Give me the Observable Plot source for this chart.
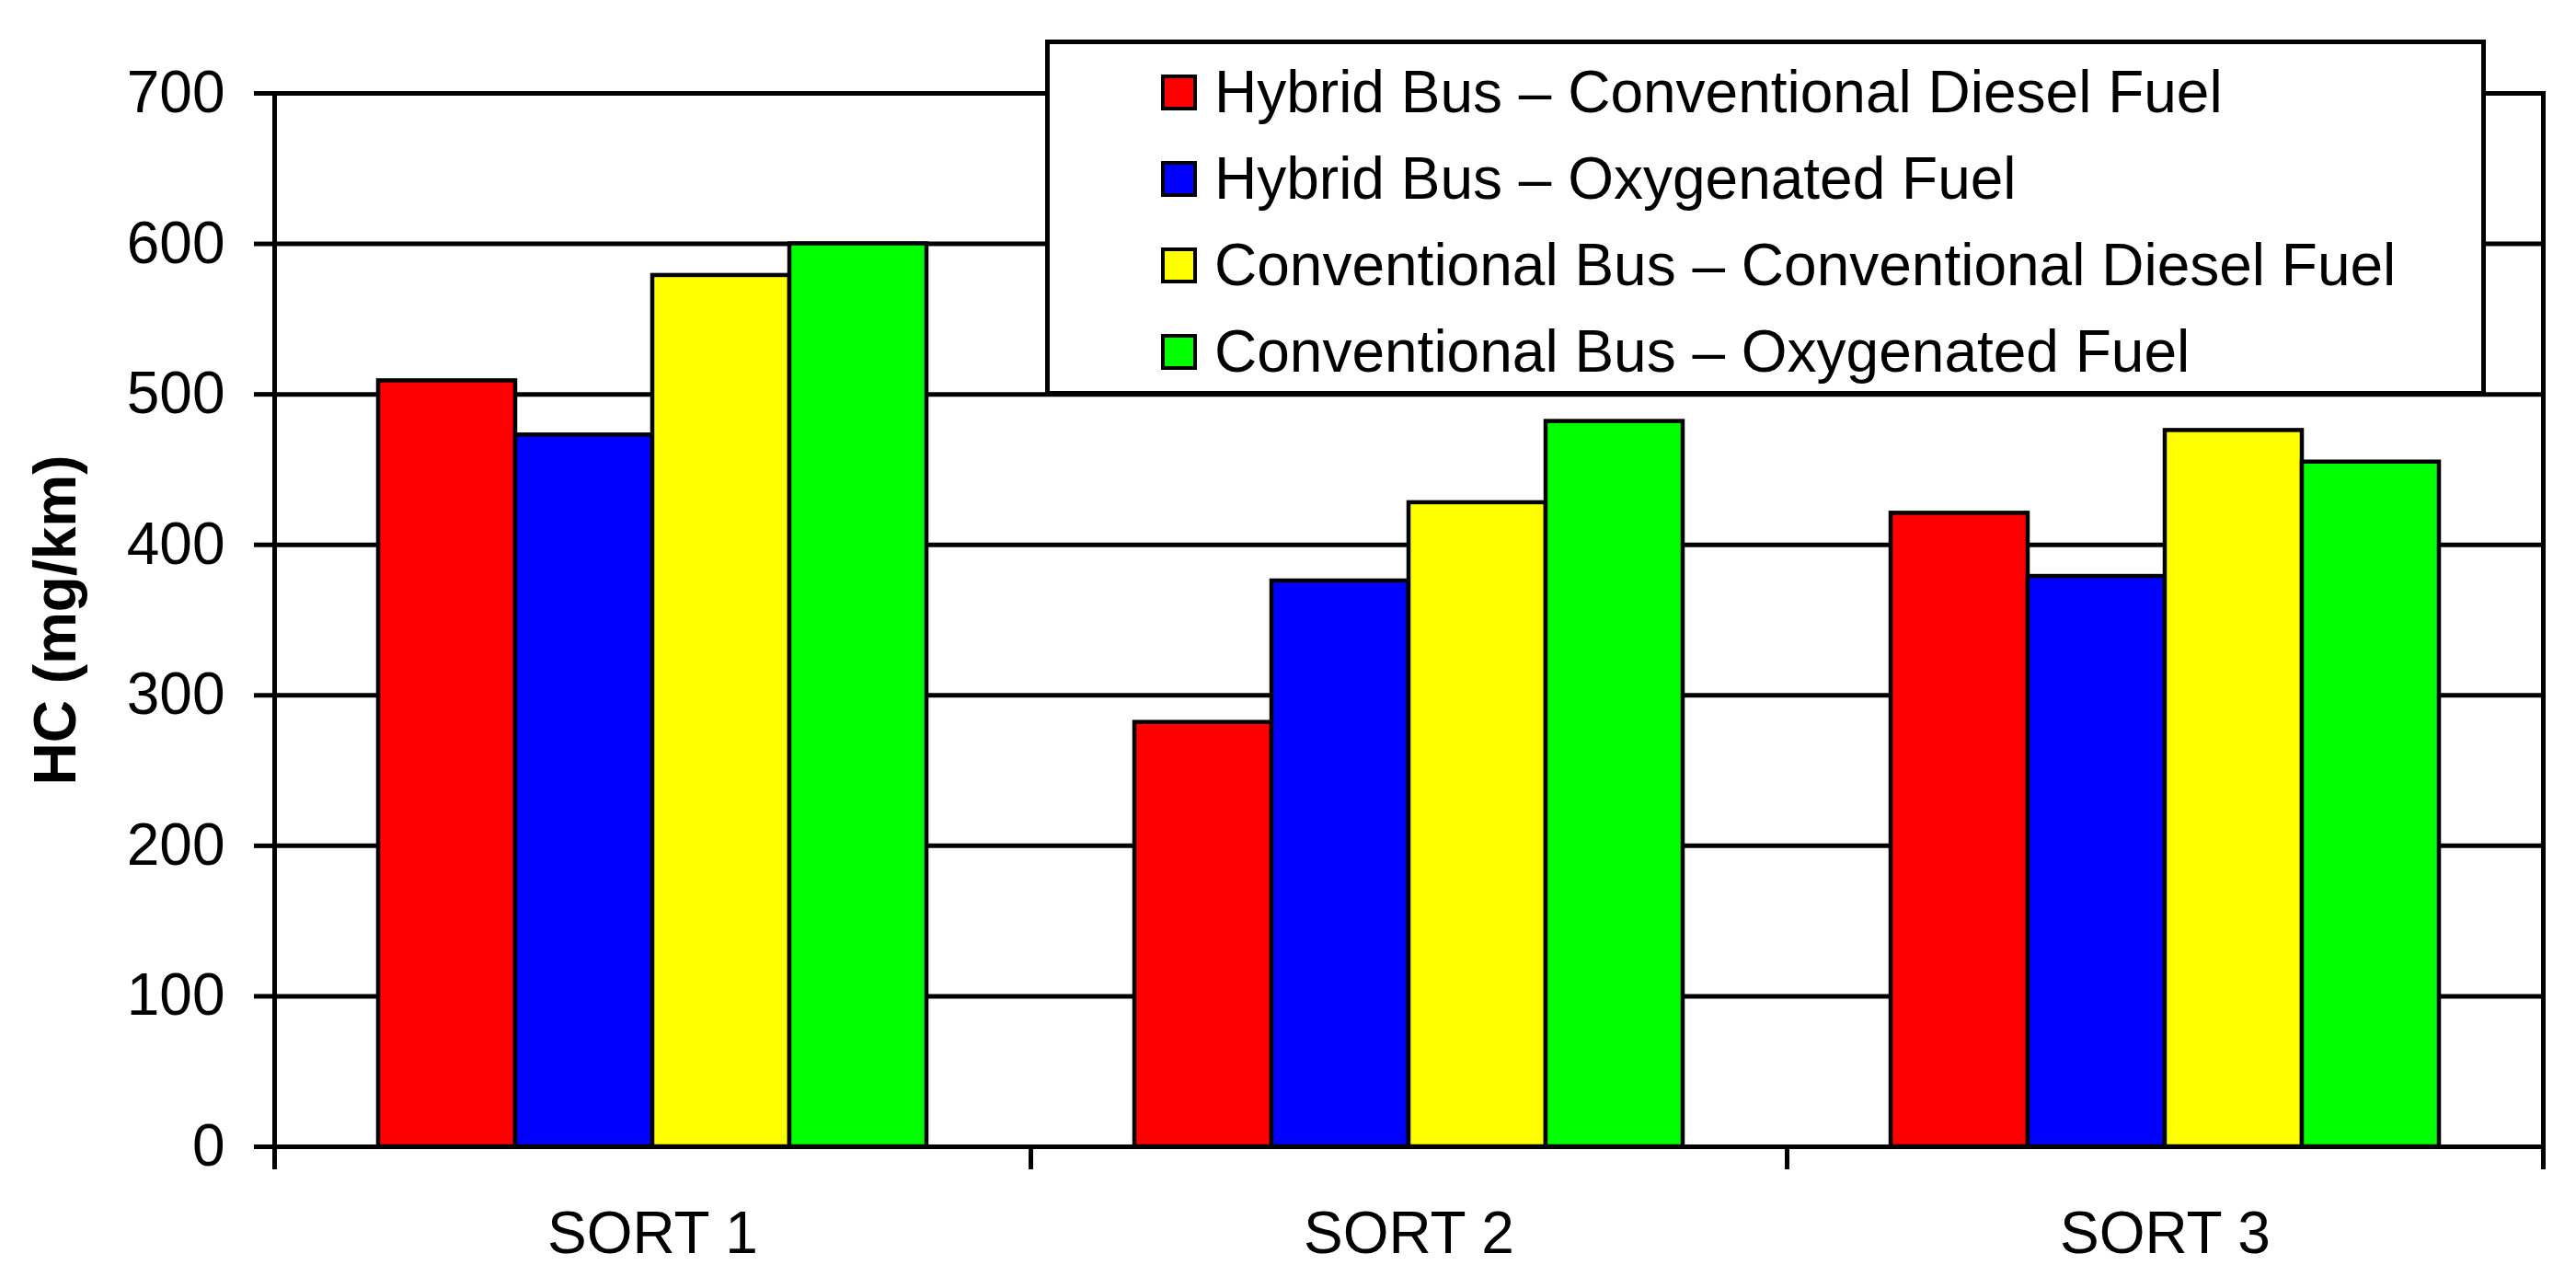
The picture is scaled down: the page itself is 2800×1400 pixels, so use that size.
<!DOCTYPE html>
<html>
<head>
<meta charset="utf-8">
<script src="https://cdn.jsdelivr.net/npm/d3@7"></script>
<script src="https://cdn.jsdelivr.net/npm/@observablehq/plot@0.6"></script>
<style>
  html, body { margin: 0; padding: 0; background: #fff; }
  #wrap { position: relative; width: 2800px; height: 1400px; font-family: "Liberation Sans", Arial, sans-serif; }
  #wrap svg { position: absolute; left: 0; top: 0; }
  g[aria-label="y-axis label"] text { font-weight: bold; }
  #legend {
    position: absolute; left: 1136px; top: 43px; width: 1556px; height: 377px;
    background: #fff; border: 5px solid #000; box-sizing: content-box;
  }
  .row { position: absolute; left: 121px; height: 64px; display: flex; align-items: center; font-size: 64px; color: #000; white-space: nowrap; }
  .sw { width: 31px; height: 31px; border: 4px solid #000; margin-right: 19px; flex: none; }
</style>
</head>
<body>
<div id="wrap"></div>
<script>
const categories = ["SORT 1", "SORT 2", "SORT 3"];
const seriesNames = [
  "Hybrid Bus – Conventional Diesel Fuel",
  "Hybrid Bus – Oxygenated Fuel",
  "Conventional Bus – Conventional Diesel Fuel",
  "Conventional Bus – Oxygenated Fuel"
];
const hybridDiesel = [509, 282, 421];
const hybridOxygenated = [473, 376, 379];
const conventionalDiesel = [579, 428, 476];
const conventionalOxygenated = [600, 482, 455];
const seriesColors = ["#ff0000", "#0000ff", "#ffff00", "#00ff00"];
const yTicks = [0, 100, 200, 300, 400, 500, 600, 700];
const yLabel = "HC (mg/km)";

const seriesValues = [hybridDiesel, hybridOxygenated, conventionalDiesel, conventionalOxygenated];
const table = [];
categories.forEach((c, i) => {
  seriesNames.forEach((s, j) => table.push({category: c, series: s, value: seriesValues[j][i]}));
});

const W = 2800, H = 1400, mT = 101, mB = 154, mL = 297, mR = 35;
const plotH = H - mT - mB;

const chart = Plot.plot({
  width: W, height: H,
  marginTop: mT, marginBottom: mB, marginLeft: mL, marginRight: mR,
  style: {fontFamily: '"Liberation Sans", Arial, sans-serif', fontSize: "64px", color: "#000", background: "#fff"},
  fx: {domain: categories, padding: 0, label: null},
  x: {domain: seriesNames, paddingInner: 0, paddingOuter: 0.753, axis: null},
  y: {domain: [0, 700]},
  color: {domain: seriesNames, range: seriesColors},
  marks: [
    Plot.gridY(yTicks, {stroke: "#000", strokeOpacity: 1, strokeWidth: 5}),
    Plot.barY(table, {fx: "category", x: "series", y: "value", fill: "series", stroke: "#000", strokeWidth: 4.5}),
    Plot.axisY(yTicks, {tickSize: 22, tickPadding: 32, strokeWidth: 5, label: yLabel, labelArrow: "none", labelAnchor: "center", labelOffset: 262}),
    Plot.axisFx({anchor: "bottom", tickSize: 0, tickPadding: 70, label: null}),
    Plot.frame({anchor: "left", facetAnchor: "left", stroke: "#000", strokeWidth: 5, insetBottom: -22}),
    Plot.frame({anchor: "right", facetAnchor: "right", stroke: "#000", strokeWidth: 5, insetBottom: -22}),
    Plot.frame({anchor: "left", stroke: "#000", strokeWidth: 5, insetTop: plotH, insetBottom: -22})
  ]
});
document.getElementById("wrap").appendChild(chart);

const legend = document.createElement("div");
legend.id = "legend";
seriesNames.forEach((s, j) => {
  const row = document.createElement("div");
  row.className = "row";
  row.style.top = (20 + j * 94) + "px";
  const sw = document.createElement("div");
  sw.className = "sw";
  sw.style.background = seriesColors[j];
  row.appendChild(sw);
  row.appendChild(document.createTextNode(s));
  legend.appendChild(row);
});
document.getElementById("wrap").appendChild(legend);
</script>
</body>
</html>
